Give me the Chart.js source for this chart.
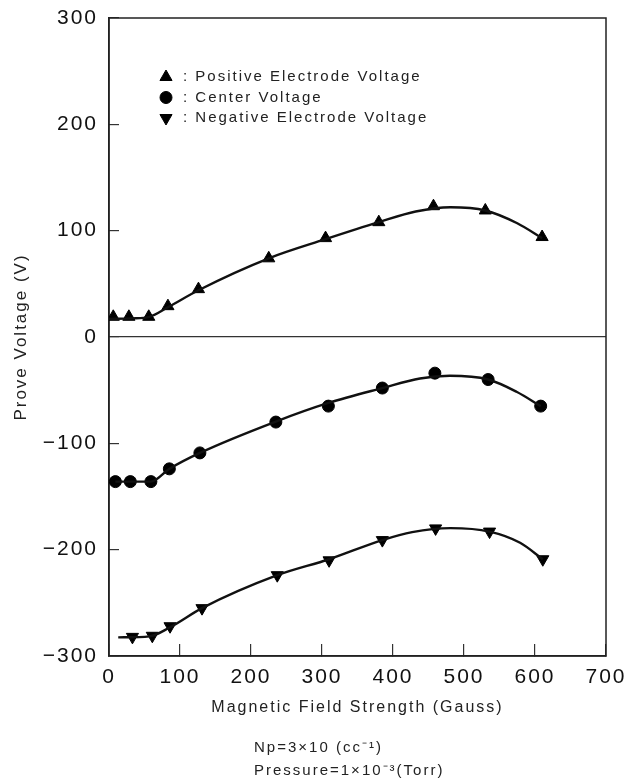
<!DOCTYPE html>
<html>
<head>
<meta charset="utf-8">
<script src="https://cdn.jsdelivr.net/npm/chart.js@4.4.1/dist/chart.umd.min.js"></script>
<style>
html, body { margin: 0; padding: 0; background: #fff; }
#wrap { width: 629px; height: 780px; }
</style>
</head>
<body>
<div id="wrap"><canvas id="probeChart"></canvas></div>
<script>
// measured points (Gauss, V)
const posField = [6, 28, 56, 83, 126, 225, 305, 380, 457, 530, 610];
const posVolt  = [19, 19, 19, 29, 45, 74, 93, 108, 123, 119, 94];
const cenField = [9, 30, 59, 85, 128, 235, 309, 385, 459, 534, 608];
const cenVolt  = [-136, -136, -136, -124, -109, -80, -65, -48, -34, -40, -65];
const negField = [33, 61, 86, 131, 237, 310, 385, 460, 536, 611];
const negVolt  = [-282, -281, -272, -255, -224, -210, -191, -180, -183, -209];

// fitted curves
const posCurveField = [0, 32, 57, 83, 126, 225, 305, 380, 432, 481, 530, 575, 610];
const posCurveVolt  = [17, 17.5, 19, 28, 44, 74, 92, 108, 118, 122, 119, 107, 93];
const cenCurveField = [9, 59, 85, 128, 235, 309, 385, 438, 480, 534, 574, 608];
const cenCurveVolt  = [-136, -136, -124, -109, -79.5, -62, -48, -39, -36.5, -40, -51.5, -65];
const negCurveField = [13, 57, 86, 131, 237, 310, 385, 427, 481, 536, 579, 611];
const negCurveVolt  = [-282.5, -281.5, -273, -255, -224, -209, -191, -183.5, -179.7, -183, -193.5, -209];

const xTicks = [0, 100, 200, 300, 400, 500, 600, 700];
const yTicks = [-300, -200, -100, 0, 100, 200, 300];

const legendNames = ['Positive Electrode Voltage', 'Center Voltage', 'Negative Electrode Voltage'];
const noteLines = ['Np=3×10 (cc⁻¹)', 'Pressure=1×10⁻³(Torr)'];

function pts(xs, ys){
	const out = [];
	for(var i=0; i<xs.length; i++){
		out.push({x: xs[i], y: ys[i]});
	}
	return out;
}

function curve(xs, ys){
	return {
		type: 'line',
		data: pts(xs, ys),
		borderColor: '#111',
		borderWidth: 2.4,
		pointRadius: 0,
		cubicInterpolationMode: 'monotone',
		fill: false
	};
}

function marks(xs, ys, label, style, radius, rot){
	return {
		type: 'line',
		label: label,
		data: pts(xs, ys),
		showLine: false,
		pointStyle: style,
		pointRadius: radius,
		pointRotation: rot,
		pointBackgroundColor: '#000',
		pointBorderColor: '#000',
		pointBorderWidth: 1,
		legendMark: true
	};
}

function spacing(chart){
	chart.ctx.letterSpacing = '2px';
}

// no extra room for the end labels, layout padding decides
function noPad(s){
	s.paddingTop = 0;
	s.paddingBottom = 0;
	s.paddingLeft = 0;
	s.paddingRight = 0;
}

// frame round the plot
const framePlugin = {
	id: 'frame',
	beforeDatasetsDraw(chart){
		const a = chart.chartArea;
		const ctx = chart.ctx;
		ctx.save();
		ctx.strokeStyle = '#222';
		ctx.lineWidth = 1.5;
		ctx.strokeRect(a.left, a.top, a.right - a.left, a.bottom - a.top);
		ctx.restore();
	}
};

// legend with marker ":" label, inside the plot
const legendPlugin = {
	id: 'markLegend',
	afterDraw(chart){
		const ctx = chart.ctx;
		const sets = chart.data.datasets.filter(d => d.legendMark);
		ctx.save();
		ctx.font = '15px "Liberation Sans", Arial, sans-serif';
		ctx.textBaseline = 'middle';
		for(var i=0; i<sets.length; i++){
			const y = 77 + i*20.5;
			ctx.fillStyle = '#000';
			ctx.strokeStyle = '#000';
			Chart.helpers.drawPoint(ctx, {
				pointStyle: sets[i].pointStyle,
				radius: sets[i].pointRadius,
				rotation: sets[i].pointRotation,
				borderWidth: 1
			}, 166, y);
			ctx.fillStyle = '#222';
			ctx.fillText(': ' + sets[i].label, 183, y);
		}
		ctx.restore();
	}
};

// conditions under the x title
const notePlugin = {
	id: 'notes',
	afterDraw(chart){
		const ctx = chart.ctx;
		ctx.save();
		ctx.font = '15px "Liberation Sans", Arial, sans-serif';
		ctx.fillStyle = '#222';
		ctx.textBaseline = 'middle';
		ctx.fillText(noteLines[0], 254, 748);
		ctx.fillText(noteLines[1], 254, 771);
		ctx.restore();
	}
};

const spacingPlugin = {
	id: 'spacing',
	beforeLayout: spacing,
	beforeDraw: spacing
};

const data = {
	datasets: [
		curve(posCurveField, posCurveVolt),
		curve(cenCurveField, cenCurveVolt),
		curve(negCurveField, negCurveVolt),
		marks(posField, posVolt, legendNames[0], 'triangle', 7, 0),
		marks(cenField, cenVolt, legendNames[1], 'circle', 6, 0),
		marks(negField, negVolt, legendNames[2], 'triangle', 7, 180)
	]
};

const config = {
	type: 'line',
	data: data,
	plugins: [spacingPlugin, framePlugin, legendPlugin, notePlugin],
	options: {
		responsive: true,
		maintainAspectRatio: false,
		animation: false,
		layout: { padding: { left: 0, top: 18, right: 23, bottom: 0 } },
		plugins: {
			legend: { display: false },
			tooltip: { enabled: false }
		},
		scales: {
			x: {
				type: 'linear',
				min: 0,
				max: 700,
				afterBuildTicks: s => { s.ticks = xTicks.map(v => ({value: v})); },
				afterFit: s => { s.height = 124; noPad(s); },
				border: { display: true, color: '#222', width: 1.5 },
				grid: { drawOnChartArea: false, tickLength: -12, tickColor: '#333', lineWidth: 1.2 },
				ticks: {
					color: '#111',
					padding: 21,
					maxRotation: 0,
					font: { family: '"Liberation Sans", Arial, sans-serif', size: 21 }
				},
				title: {
					display: true,
					text: 'Magnetic Field Strength (Gauss)',
					color: '#222',
					font: { family: '"Liberation Sans", Arial, sans-serif', size: 16 },
					padding: { top: 0, bottom: 63 }
				}
			},
			y: {
				type: 'linear',
				min: -300,
				max: 300,
				afterBuildTicks: s => { s.ticks = yTicks.map(v => ({value: v})); },
				afterFit: s => { s.width = 109; noPad(s); },
				border: { display: true, color: '#222', width: 1.5 },
				grid: {
					drawOnChartArea: true,
					color: c => (c.tick && c.tick.value === 0) ? '#333' : 'rgba(0,0,0,0)',
					lineWidth: 1.2,
					tickLength: -10,
					tickColor: '#333'
				},
				ticks: {
					color: '#111',
					padding: 21,
					font: { family: '"Liberation Sans", Arial, sans-serif', size: 21 },
					callback: v => v < 0 ? '\u2212' + Math.abs(v) : '' + v
				},
				title: {
					display: true,
					text: 'Prove Voltage (V)',
					color: '#222',
					font: { family: '"Liberation Sans", Arial, sans-serif', size: 17 },
					padding: { top: 11, bottom: 0 }
				}
			}
		}
	}
};

const myChart = new Chart(document.getElementById('probeChart'), config);
</script>
</body>
</html>
